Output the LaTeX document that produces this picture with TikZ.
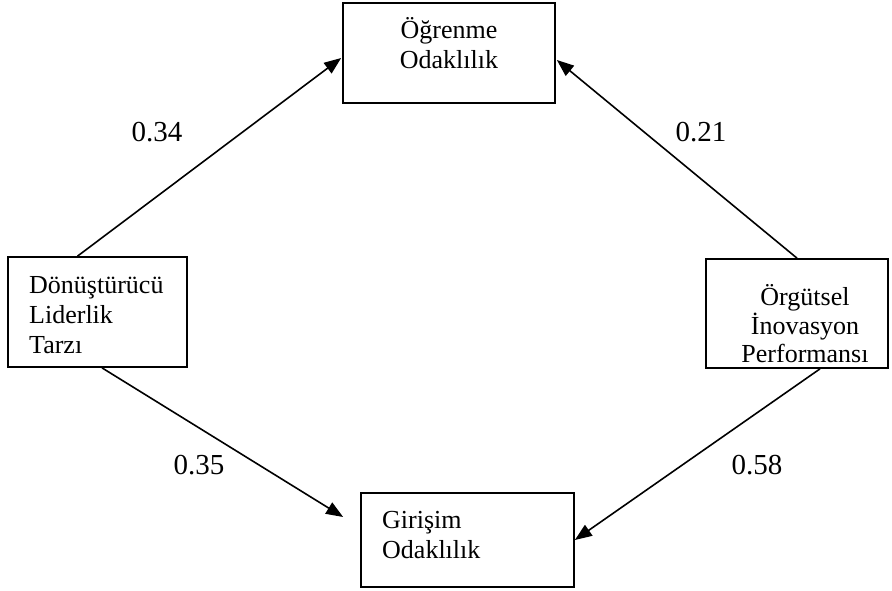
\documentclass[tikz,border=0pt]{standalone}
\usepackage{fontspec}
\setmainfont{Liberation Serif}
\usetikzlibrary{arrows.meta}
\begin{document}
\begin{tikzpicture}[x=1pt,y=-1pt,
  box/.style={draw,line width=1.7pt,inner sep=0pt,fill=white},
  conn/.style={line width=1.6pt,-{Triangle[length=17pt,width=13pt]}},
  txt/.style={font=\fontsize{26}{30}\selectfont,inner sep=0pt},
  coef/.style={font=\fontsize{29}{34}\selectfont,inner sep=0pt}]
\useasboundingbox (0,0) rectangle (892,590);
% boxes
\node[box,minimum width=212pt,minimum height=100pt] (top) at (449,53) {};
\node[box,minimum width=179pt,minimum height=110pt] (left) at (97.5,312) {};
\node[box,minimum width=182pt,minimum height=109pt] (right) at (797,313.5) {};
\node[box,minimum width=213pt,minimum height=94pt] (bottom) at (467.5,540) {};
% texts
\node[txt,anchor=base] (t1) at (449,38) {Öğrenme};
\node[txt,anchor=base] (t2) at (449,68) {Odaklılık};
\node[txt,anchor=base west] (l1) at (29,293) {Dönüştürücü};
\node[txt,anchor=base west] (l2) at (29,323) {Liderlik};
\node[txt,anchor=base west] (l3) at (29,353) {Tarzı};
\node[txt,anchor=base] (r1) at (805,305) {Örgütsel};
\node[txt,anchor=base] (r2) at (805,334) {İnovasyon};
\node[txt,anchor=base] (r3) at (805,362) {Performansı};
\node[txt,anchor=base west] (b1) at (382,528) {Girişim};
\node[txt,anchor=base west] (b2) at (382,558) {Odaklılık};
% connectors
\coordinate (e3) at ([xshift=-17pt,yshift=23pt]bottom.west);
\draw[conn] ([xshift=-20pt]left.north) -- ([xshift=-1pt,yshift=-5pt]top.west);
\draw[conn] (right.north) -- ([xshift=1pt,yshift=-7pt]top.east);
\draw[conn] ([xshift=4.5pt]left.south) -- (e3);
\draw[conn] ([xshift=23pt]right.south) -- (bottom.east);
% coefficients
\node[coef] (c1) at (157,132) {0.34};
\node[coef] (c2) at (701,132) {0.21};
\node[coef] (c3) at (199,465) {0.35};
\node[coef] (c4) at (757,465) {0.58};
\end{tikzpicture}
\end{document}
